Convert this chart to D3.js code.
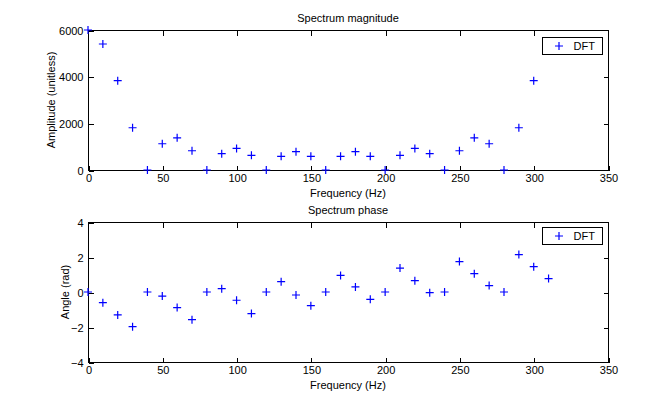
<!DOCTYPE html>
<html>
<head>
<meta charset="utf-8">
<script src="https://cdn.jsdelivr.net/npm/d3@7/dist/d3.min.js"></script>
<style>
  html, body { margin: 0; padding: 0; background: #fff; }
  svg { display: block; }
  text { font-family: Arial, "Liberation Sans", Helvetica, sans-serif; fill: #000; }
</style>
</head>
<body>
<svg id="chart" width="671" height="406"></svg>
<script>
// ---- data ----
const magFreq = [0,10,20,30,40,50,60,70,80,90,100,110,120,130,140,150,160,170,180,190,200,210,220,230,240,250,260,270,280,290,300];
const magValues = [6000,5400,3830,1810,0,1125,1380,826,0,700,925,627,0,584,784,584,0,584,784,584,0,627,925,700,0,826,1380,1125,0,1810,3830];
const phaseFreq = [0,10,20,30,40,50,60,70,80,90,100,110,120,130,140,150,160,170,180,190,200,210,220,230,240,250,260,270,280,290,300,310];
const phaseValues = [0,-0.61,-1.31,-1.98,0,-0.23,-0.89,-1.58,0,0.19,-0.47,-1.23,0,0.59,-0.17,-0.78,0,0.95,0.29,-0.42,0,1.37,0.65,-0.04,0,1.74,1.05,0.37,0,2.14,1.45,0.77];
const xTicks = [0,50,100,150,200,250,300,350];
const magTicks = [0,2000,4000,6000];
const phaseTicks = [-4,-2,0,2,4];
const legendLabel = "DFT";

const svg = d3.select("#chart");
const W = 671, H = 406;
const left = 88, right = 608;

function panel(cfg) {
  const x = d3.scaleLinear().domain([0, 350]).range([left, right]);
  const y = d3.scaleLinear().domain(cfg.yDomain).range([cfg.bottom, cfg.top]);
  const g = svg.append("g");

  // box
  g.append("rect")
    .attr("x", left + 0.5).attr("y", cfg.top + 0.5)
    .attr("width", right - left).attr("height", cfg.bottom - cfg.top)
    .attr("fill", "#fff").attr("stroke", "#000").attr("stroke-width", 1);

  const fs = "11px";
  const styleAxis = sel => {
    sel.select(".domain").remove();
    sel.selectAll(".tick line").attr("stroke", "#000").attr("shape-rendering", "crispEdges");
    sel.selectAll(".tick text").attr("font-size", fs).attr("font-family", "Arial, 'Liberation Sans', sans-serif").attr("fill", "#000");
  };

  g.append("g").attr("transform", `translate(0.5,${cfg.bottom + 0.5})`)
    .call(d3.axisBottom(x).tickValues(xTicks).tickSize(-5).tickPadding(4).tickFormat(d3.format("d")))
    .call(styleAxis);
  g.append("g").attr("transform", `translate(0.5,${cfg.top + 0.5})`)
    .call(d3.axisTop(x).tickValues(xTicks.slice(1, -1)).tickSize(-5).tickFormat(""))
    .call(styleAxis);
  g.append("g").attr("transform", `translate(${left + 0.5},0.5)`)
    .call(d3.axisLeft(y).tickValues(cfg.yTicks).tickSize(-5).tickPadding(5).tickFormat(d3.format("d")))
    .call(styleAxis);
  g.append("g").attr("transform", `translate(${right + 0.5},0.5)`)
    .call(d3.axisRight(y).tickValues(cfg.yTicks.slice(1, -1)).tickSize(-5).tickFormat(""))
    .call(styleAxis);

  // markers
  const s = 4;
  const pts = g.append("g").attr("stroke", "#0000ff").attr("stroke-width", 1.2).attr("fill", "none");
  cfg.xs.forEach((f, i) => {
    const px = x(f), py = y(cfg.ys[i]);
    pts.append("path").attr("d", `M${px - s},${py}H${px + s}M${px},${py - s}V${py + s}`);
  });

  // title
  g.append("text").attr("x", (left + right) / 2).attr("y", cfg.top - 8)
    .attr("text-anchor", "middle").attr("font-size", fs).text(cfg.title);
  // x label
  g.append("text").attr("x", (left + right) / 2).attr("y", cfg.bottom + 27)
    .attr("text-anchor", "middle").attr("font-size", fs).text("Frequency (Hz)");
  // y label
  g.append("text")
    .attr("transform", `translate(${cfg.ylabelX},${(cfg.top + cfg.bottom) / 2}) rotate(-90)`)
    .attr("text-anchor", "middle").attr("font-size", fs).text(cfg.ylabel);

  // legend
  const lg = g.append("g").attr("transform", `translate(542.5,${cfg.top + cfg.legendOff + 0.5})`);
  lg.append("rect").attr("width", 60).attr("height", 17).attr("fill", "#fff").attr("stroke", "#000");
  lg.append("path").attr("d", `M${16.5 - s},8.5H${16.5 + s}M16.5,${8.5 - s}V${8.5 + s}`)
    .attr("stroke", "#0000ff").attr("stroke-width", 1.2);
  lg.append("text").attr("x", 31).attr("y", 12.5).attr("font-size", fs).text(legendLabel);
}

panel({
  top: 30, bottom: 170, yDomain: [0, 6000], yTicks: magTicks,
  xs: magFreq, ys: magValues, title: "Spectrum magnitude",
  ylabel: "Amplitude (unitless)", ylabelX: 55, legendOff: 7
});
panel({
  top: 222, bottom: 362, yDomain: [-4, 4], yTicks: phaseTicks,
  xs: phaseFreq, ys: phaseValues, title: "Spectrum phase",
  ylabel: "Angle (rad)", ylabelX: 69, legendOff: 5
});
</script>
</body>
</html>
